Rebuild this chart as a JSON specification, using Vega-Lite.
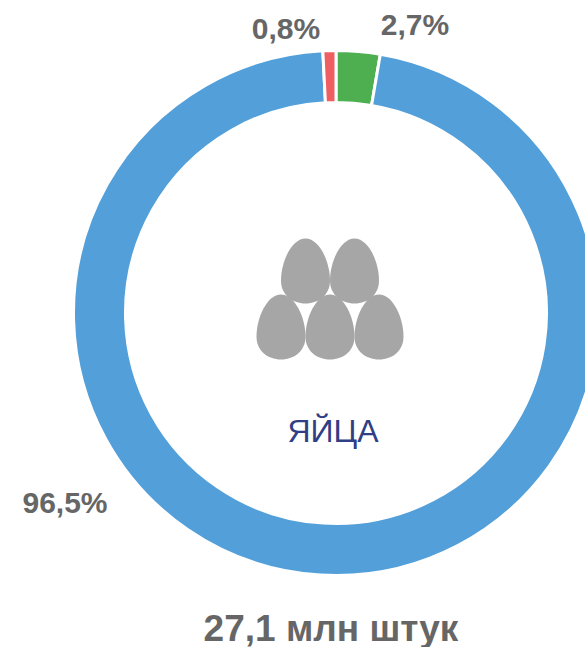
{
  "$schema": "https://vega.github.io/schema/vega-lite/v6.json",
  "width": 672,
  "height": 626,
  "padding": {"left": 0, "top": 0, "right": 0, "bottom": 21},
  "autosize": "none",
  "background": "white",
  "view": {"stroke": null},
  "layer": [
    {
      "data": {"values": [
        {"category": "Зелёный", "share": 2.7, "rank": 1},
        {"category": "Синий", "share": 96.5, "rank": 2},
        {"category": "Красный", "share": 0.8, "rank": 3}
      ]},
      "mark": {"type": "arc", "outerRadius": 262.5, "innerRadius": 210.5, "stroke": "white", "strokeWidth": 3},
      "encoding": {
        "theta": {"field": "share", "type": "quantitative", "stack": true},
        "order": {"field": "rank", "type": "ordinal"},
        "color": {
          "field": "category", "type": "nominal", "legend": null,
          "scale": {"domain": ["Зелёный", "Синий", "Красный"], "range": ["#4EAF50", "#529FD9", "#EF5F62"]}
        }
      }
    },
    {
      "data": {"values": [
        {"px": -30.5, "py": -42},
        {"px": 18.5, "py": -42},
        {"px": -55, "py": 14},
        {"px": -6, "py": 14},
        {"px": 43, "py": 14}
      ]},
      "mark": {
        "type": "point", "filled": true, "opacity": 1, "color": "#A6A6A6", "size": 4225,
        "shape": "M0,-1 C0.42,-1 0.754,-0.3 0.754,0.3 C0.754,0.72 0.42,1 0,1 C-0.42,1 -0.754,0.72 -0.754,0.3 C-0.754,-0.3 -0.42,-1 0,-1 Z"
      },
      "encoding": {
        "x": {"field": "px", "type": "quantitative", "axis": null, "scale": {"domain": [-336, 336]}},
        "y": {"field": "py", "type": "quantitative", "axis": null, "scale": {"domain": [313, -313]}}
      }
    },
    {
      "data": {"values": [
        {"label": "0,8%", "px": -50, "py": -283},
        {"label": "2,7%", "px": 79, "py": -287},
        {"label": "96,5%", "px": -271, "py": 191},
        {"label": "27,1 млн штук", "px": -5, "py": 317}
      ]},
      "mark": {"type": "text", "font": "Liberation Sans", "fontWeight": "bold", "color": "#666666", "align": "center", "baseline": "middle"},
      "encoding": {
        "x": {"field": "px", "type": "quantitative", "axis": null, "scale": {"domain": [-336, 336]}},
        "y": {"field": "py", "type": "quantitative", "axis": null, "scale": {"domain": [313, -313]}},
        "text": {"field": "label", "type": "nominal"},
        "size": {"condition": {"test": "datum.label === '27,1 млн штук'", "value": 37}, "value": 30}
      }
    },
    {
      "data": {"values": [{"label": "ЯЙЦА", "px": -3, "py": 119}]},
      "mark": {"type": "text", "font": "Liberation Sans", "fontSize": 32, "color": "#2F3E85", "align": "center", "baseline": "middle"},
      "encoding": {
        "x": {"field": "px", "type": "quantitative", "axis": null, "scale": {"domain": [-336, 336]}},
        "y": {"field": "py", "type": "quantitative", "axis": null, "scale": {"domain": [313, -313]}},
        "text": {"field": "label", "type": "nominal"}
      }
    }
  ],
  "resolve": {"scale": {"color": "independent"}}
}
